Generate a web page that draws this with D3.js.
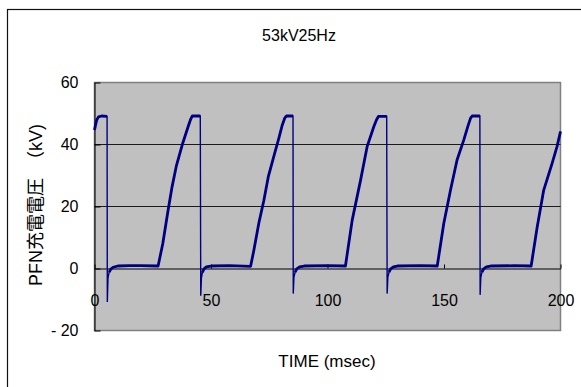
<!DOCTYPE html>
<html>
<head>
<meta charset="utf-8">
<script src="https://cdn.jsdelivr.net/npm/d3@7"></script>
<style>
  body { margin: 0; background: #fff; }
  svg text { font-family: "Liberation Sans", Arial, "Noto Sans CJK JP", sans-serif; fill: #000; }
</style>
</head>
<body>
<svg id="graph" width="581" height="387"></svg>
<script>
const mesures = [
  [0, 44.7], [0.5, 46.5], [1.0, 48.0], [1.7, 48.9], [3.0, 49.2], [5.4, 49.1],
  [5.5, -10.8], [5.8, -3.0], [6.3, -1.2], [7.0, -0.2], [8.0, 0.4], [10, 0.8], [15, 0.9], [20, 0.9], [27.3, 0.8],
  [29.3, 8.0], [31.5, 18.4], [33.2, 26.0], [35.1, 33.0], [37.9, 40.5], [40.2, 45.8], [41.2, 48.0], [42.0, 49.2], [45.4, 49.2],
  [45.6, -8.8], [45.9, -3.0], [46.3, -1.3], [47.0, -0.1], [48.0, 0.5], [50, 0.8], [58, 0.9], [67.0, 0.7],
  [68.4, 5.9], [70.5, 14.5], [72.7, 22.0], [74.6, 29.6], [76.9, 36.0], [79.1, 42.0], [80.6, 46.3], [81.7, 48.6], [82.4, 49.2], [85.2, 49.2],
  [85.3, -8.1], [85.6, -2.8], [86.1, -1.2], [86.8, -0.1], [88.0, 0.5], [90, 0.8], [100, 0.9], [107.7, 0.8],
  [110.6, 15.6], [114.2, 28.5], [117.0, 39.3], [119.9, 45.8], [121.0, 47.9], [121.9, 49.1], [125.4, 49.1],
  [125.6, -8.1], [125.9, -2.8], [126.4, -1.2], [127.1, -0.1], [128.3, 0.5], [130, 0.8], [140, 0.9], [147.1, 0.8],
  [149.9, 14.5], [152.8, 25.3], [155.6, 35.0], [158.5, 41.5], [160.3, 46.0], [161.4, 48.5], [162.1, 49.2], [165.4, 49.2],
  [165.5, -8.5], [165.8, -2.9], [166.3, -1.2], [167.0, -0.1], [168.2, 0.5], [170, 0.8], [180, 0.9], [187.4, 0.8],
  [190.0, 13.4], [192.8, 25.3], [196.4, 33.9], [198.5, 39.3], [200, 44.2]
];

const ticksX = [0, 50, 100, 150, 200];
const ticksY = [-20, 0, 20, 40, 60];
const grilleY = [20, 40];

const titre = "53kV25Hz";
const titreX = "TIME (msec)";
const titreY = "PFN充電電圧　（kV)";

var svg = d3.select("#graph");

// cadre exterieur (coupé à droite et en bas comme sur l'original)
svg.append("rect")
  .attr("x", 7.5).attr("y", 9.5)
  .attr("width", 620).attr("height", 420)
  .attr("fill", "none").attr("stroke", "#111").attr("stroke-width", 1.2);

var xScale = d3.scaleLinear().domain([0, 200]).range([94.5, 560.5]);
var yScale = d3.scaleLinear().domain([-20, 60]).range([330.5, 82.5]);

// fond gris de la zone de tracé
svg.append("rect")
  .attr("x", xScale(0)).attr("y", yScale(60))
  .attr("width", xScale(200) - xScale(0))
  .attr("height", yScale(-20) - yScale(60))
  .attr("fill", "#c0c0c0")
  .attr("stroke", "#808080").attr("stroke-width", 1.5);

svg.append("g").selectAll("line")
  .data(grilleY).enter().append("line")
  .attr("x1", xScale(0)).attr("x2", xScale(200))
  .attr("y1", d => yScale(d)).attr("y2", d => yScale(d))
  .attr("stroke", "#1a1a1a").attr("stroke-width", 1);

// axe Y : graduations vers l'intérieur
var yAxis = svg.append("g")
  .attr("transform", `translate(${xScale(0)},0)`)
  .call(d3.axisLeft(yScale).tickValues(ticksY).tickSizeInner(-6).tickSizeOuter(0).tickPadding(16)
    .tickFormat(d => d < 0 ? "- " + Math.abs(d) : d));
yAxis.selectAll("text").style("font-size", "16px");

// axe X placé sur y = 0
var xAxis = svg.append("g")
  .attr("transform", `translate(0,${yScale(0)})`)
  .call(d3.axisBottom(xScale).tickValues(ticksX).tickSizeInner(-4).tickSizeOuter(0).tickPadding(26));
xAxis.selectAll("text").style("font-size", "16px");
svg.selectAll(".domain, .tick line").attr("stroke", "#000");

// courbe
var ligne = d3.line().x(d => xScale(d[0])).y(d => yScale(d[1]));
svg.append("path")
  .datum(mesures)
  .attr("d", ligne)
  .attr("fill", "none").attr("stroke", "#000080").attr("stroke-width", 1.4);
// partie bruitée plus épaisse (sans les chutes)
svg.append("path")
  .datum(mesures)
  .attr("d", ligne.defined(d => d[1] > -2))
  .attr("fill", "none").attr("stroke", "#000080").attr("stroke-width", 2.8)
  .attr("stroke-linejoin", "round");

svg.append("text")
  .attr("x", 299).attr("y", 41)
  .attr("text-anchor", "middle")
  .style("font-size", "16px")
  .text(titre);

svg.append("text")
  .attr("x", 327).attr("y", 367)
  .attr("text-anchor", "middle")
  .style("font-size", "17px")
  .text(titreX);

svg.append("text")
  .attr("transform", "translate(42,205) rotate(-90)")
  .attr("text-anchor", "middle")
  .style("font-size", "18px")
  .text(titreY);
</script>
</body>
</html>
